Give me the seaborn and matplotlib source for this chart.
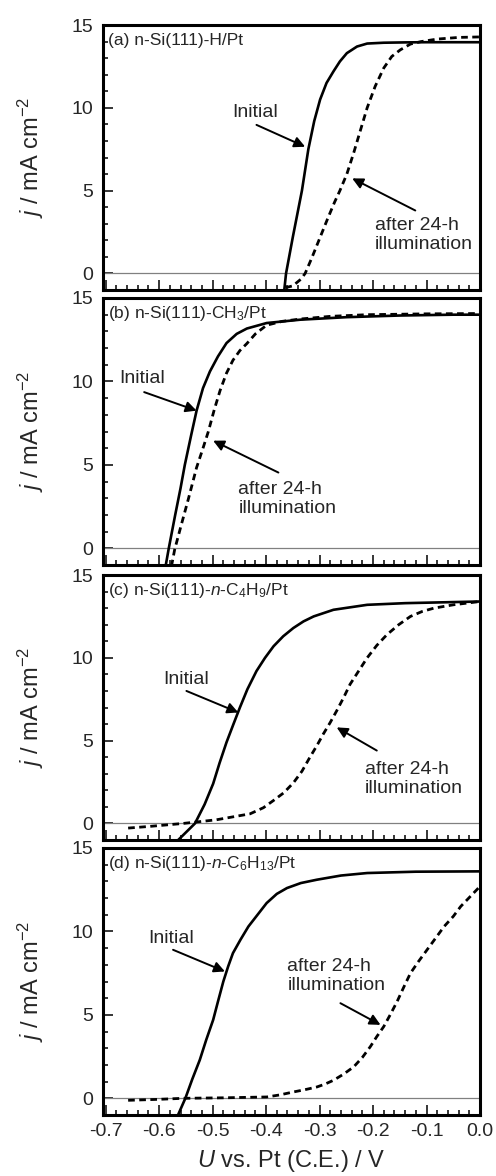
import numpy as np
import pandas as pd
import matplotlib
matplotlib.use("Agg")
import matplotlib.pyplot as plt
import seaborn as sns
from matplotlib.ticker import MultipleLocator

# ---------------- data ----------------
panel_labels = ["(a) n-Si(111)-H/Pt",
                "(b) n-Si(111)-CH$_3$/Pt",
                "(c) n-Si(111)-$n$-C$_4$H$_9$/Pt",
                "(d) n-Si(111)-$n$-C$_6$H$_{13}$/Pt"]

a_init_U = [-0.366, -0.3627, -0.350, -0.333, -0.321, -0.310, -0.299, -0.287, -0.274, -0.262,
            -0.249, -0.230, -0.211, -0.18, -0.14, -0.10, -0.05, 0.0]
a_init_j = [-1.0, 0.0, 2.2, 5.0, 7.5, 9.2, 10.5, 11.5, 12.2, 12.8,
            13.3, 13.7, 13.88, 13.93, 13.95, 13.96, 13.96, 13.96]
a_aft_U = [-0.364, -0.350, -0.335, -0.327, -0.315, -0.300, -0.285, -0.272, -0.262, -0.249,
           -0.236, -0.224, -0.211, -0.196, -0.180, -0.165, -0.149, -0.130, -0.110, -0.080,
           -0.040, 0.0]
a_aft_j = [-0.86, -0.75, -0.35, 0.0, 0.9, 2.1, 3.3, 4.3, 5.0, 6.0,
           7.3, 8.6, 10.0, 11.3, 12.4, 13.1, 13.5, 13.85, 14.0, 14.15,
           14.25, 14.28]

b_init_U = [-0.588, -0.582, -0.570, -0.560, -0.552, -0.540, -0.530, -0.518, -0.505, -0.490,
            -0.474, -0.455, -0.436, -0.399, -0.336, -0.25, -0.15, -0.05, 0.0]
b_init_j = [-1.08, 0.0, 2.0, 3.6, 5.0, 6.8, 8.25, 9.6, 10.6, 11.5,
            12.3, 12.85, 13.17, 13.5, 13.7, 13.85, 13.95, 14.0, 14.0]
b_aft_U = [-0.577, -0.571, -0.560, -0.545, -0.530, -0.519, -0.508, -0.497, -0.486, -0.474,
           -0.462, -0.449, -0.436, -0.420, -0.399, -0.370, -0.336, -0.28, -0.211, -0.1, 0.0]
b_aft_j = [-1.08, -0.08, 1.24, 3.0, 4.84, 5.9, 7.0, 8.3, 9.46, 10.5,
           11.27, 11.85, 12.27, 12.85, 13.37, 13.6, 13.74, 13.9, 14.0, 14.05, 14.07]

c_init_U = [-0.565, -0.533, -0.515, -0.499, -0.487, -0.474, -0.461, -0.449, -0.435, -0.418,
            -0.402, -0.386, -0.368, -0.349, -0.330, -0.311, -0.274, -0.211, -0.14, -0.07, 0.0]
c_init_j = [-1.02, 0.0, 1.15, 2.4, 3.65, 4.9, 6.0, 7.0, 8.1, 9.2,
            10.0, 10.7, 11.3, 11.8, 12.2, 12.5, 12.9, 13.2, 13.3, 13.35, 13.4]
c_aft_U = [-0.658, -0.618, -0.555, -0.493, -0.430, -0.405, -0.386, -0.367, -0.349, -0.333,
           -0.318, -0.305, -0.293, -0.280, -0.268, -0.255, -0.243, -0.227, -0.211, -0.193,
           -0.174, -0.152, -0.130, -0.108, -0.086, -0.05, 0.0]
c_aft_j = [-0.28, -0.18, 0.0, 0.22, 0.58, 0.95, 1.39, 1.85, 2.45, 3.15,
           4.0, 4.7, 5.4, 6.1, 6.8, 7.6, 8.4, 9.2, 10.0, 10.75,
           11.4, 12.0, 12.5, 12.8, 13.0, 13.2, 13.4]

d_init_U = [-0.565, -0.551, -0.538, -0.524, -0.512, -0.499, -0.490, -0.480, -0.471, -0.462,
            -0.448, -0.433, -0.416, -0.399, -0.380, -0.361, -0.335, -0.305, -0.26, -0.211,
            -0.12, 0.0]
d_init_j = [-1.02, 0.0, 1.15, 2.3, 3.5, 4.7, 5.8, 7.0, 7.9, 8.7,
            9.5, 10.3, 11.0, 11.7, 12.25, 12.6, 12.9, 13.1, 13.35, 13.5,
            13.58, 13.6]
d_aft_U = [-0.658, -0.600, -0.555, -0.480, -0.399, -0.375, -0.349, -0.327, -0.305, -0.290,
           -0.274, -0.255, -0.236, -0.220, -0.205, -0.193, -0.180, -0.168, -0.155, -0.142,
           -0.130, -0.115, -0.099, -0.083, -0.067, -0.050, -0.036, -0.018, 0.0]
d_aft_j = [-0.12, -0.06, 0.0, 0.03, 0.08, 0.2, 0.38, 0.52, 0.68, 0.85,
           1.08, 1.45, 1.89, 2.45, 3.1, 3.7, 4.3, 5.0, 5.8, 6.7,
           7.5, 8.2, 8.9, 9.6, 10.3, 10.9, 11.5, 12.1, 12.7]

# annotation anchors (data coords): text position, arrow tail, arrow head
init_text = [(-0.421, 9.7), (-0.631, 10.2), (-0.549, 8.7), (-0.577, 9.6)]
init_tail = [(-0.418, 8.97), (-0.628, 9.36), (-0.549, 8.0), (-0.574, 8.9)]
init_head = [(-0.327, 7.65), (-0.530, 8.25), (-0.452, 6.7), (-0.477, 7.6)]
aft_text = [(-0.196, 2.3), (-0.452, 2.98), (-0.215, 2.69), (-0.360, 7.33)]
aft_tail = [(-0.121, 3.8), (-0.377, 4.54), (-0.193, 4.4), (-0.261, 5.7)]
aft_head = [(-0.239, 5.74), (-0.499, 6.45), (-0.268, 5.8), (-0.186, 4.4)]

initial_U = [a_init_U, b_init_U, c_init_U, d_init_U]
initial_j = [a_init_j, b_init_j, c_init_j, d_init_j]
after_U = [a_aft_U, b_aft_U, c_aft_U, d_aft_U]
after_j = [a_aft_j, b_aft_j, c_aft_j, d_aft_j]

# ---------------- style ----------------
sns.set_style("white")
plt.rcParams["font.family"] = ["Liberation Sans", "DejaVu Sans"]
plt.rcParams["mathtext.fontset"] = "custom"
plt.rcParams["mathtext.rm"] = "Liberation Sans"
plt.rcParams["mathtext.it"] = "Liberation Sans:italic"
plt.rcParams["mathtext.bf"] = "Liberation Sans:bold"

fig = plt.figure(figsize=(4.96, 11.76), dpi=100)

L, W = 103 / 496, 377 / 496
rects = [(25, 290), (298, 565), (575, 840), (848, 1115)]

for i in range(4):
    top, bot = rects[i]
    ax = fig.add_axes([L, (1176 - bot) / 1176, W, (bot - top) / 1176])
    ax.axhline(0, color="#808080", lw=0.9, zorder=1)
    sns.lineplot(x=initial_U[i], y=initial_j[i], ax=ax, color="black", lw=1.9,
                 sort=False, estimator=None, zorder=3, solid_joinstyle="round")
    sns.lineplot(x=after_U[i], y=after_j[i], ax=ax, color="black", lw=2.0,
                 sort=False, estimator=None, linestyle=(0, (2.4, 1.6)), zorder=3)
    ax.set_xlim(-0.705, 0.0)
    ax.set_ylim(-1, 15)
    ax.xaxis.set_major_locator(MultipleLocator(0.1))
    ax.xaxis.set_minor_locator(MultipleLocator(0.02))
    ax.yaxis.set_major_locator(MultipleLocator(5))
    ax.yaxis.set_minor_locator(MultipleLocator(1))
    ax.tick_params(which="both", direction="in", top=False, right=False,
                   bottom=True, left=True, color="black", width=1.1)
    ax.tick_params(which="major", length=7, labelsize=14)
    ax.tick_params(which="minor", length=3.5)
    ax.tick_params(axis="y", which="major", pad=7)
    ax.tick_params(axis="x", which="major", pad=6)
    for s in ax.spines.values():
        s.set_linewidth(2.2)
        s.set_color("black")
    ax.set_ylabel("$j$ / mA cm$^{-2}$", fontsize=17)
    ax.yaxis.set_label_coords(-0.15, 0.5)
    if i < 3:
        ax.set_xticklabels([])
        ax.set_xlabel("")
    else:
        ax.set_xticks(np.round(np.arange(-0.7, 0.01, 0.1), 1))
        ax.set_xticklabels(["-0.7", "-0.6", "-0.5", "-0.4", "-0.3", "-0.2", "-0.1", "0.0"])
        ax.set_xlabel("$U$ vs. Pt (C.E.) / V", fontsize=17)
        ax.xaxis.set_label_coords(0.5, -0.125)
    ax.text(0.012, 0.943, panel_labels[i], transform=ax.transAxes,
            fontsize=12.5, ha="left", va="center")
    # annotations
    ax.text(init_text[i][0], init_text[i][1], "Initial", fontsize=14,
            ha="center", va="center")
    ax.annotate("", xy=init_head[i], xytext=init_tail[i],
                arrowprops=dict(arrowstyle="-|>", color="black", lw=1.4,
                                mutation_scale=16, shrinkA=0, shrinkB=0))
    ax.text(aft_text[i][0], aft_text[i][1], "after 24-h\nillumination", fontsize=14,
            ha="left", va="center", linespacing=1.15)
    ax.annotate("", xy=aft_head[i], xytext=aft_tail[i],
                arrowprops=dict(arrowstyle="-|>", color="black", lw=1.4,
                                mutation_scale=16, shrinkA=0, shrinkB=0))

fig.savefig("out.png", dpi=100)
